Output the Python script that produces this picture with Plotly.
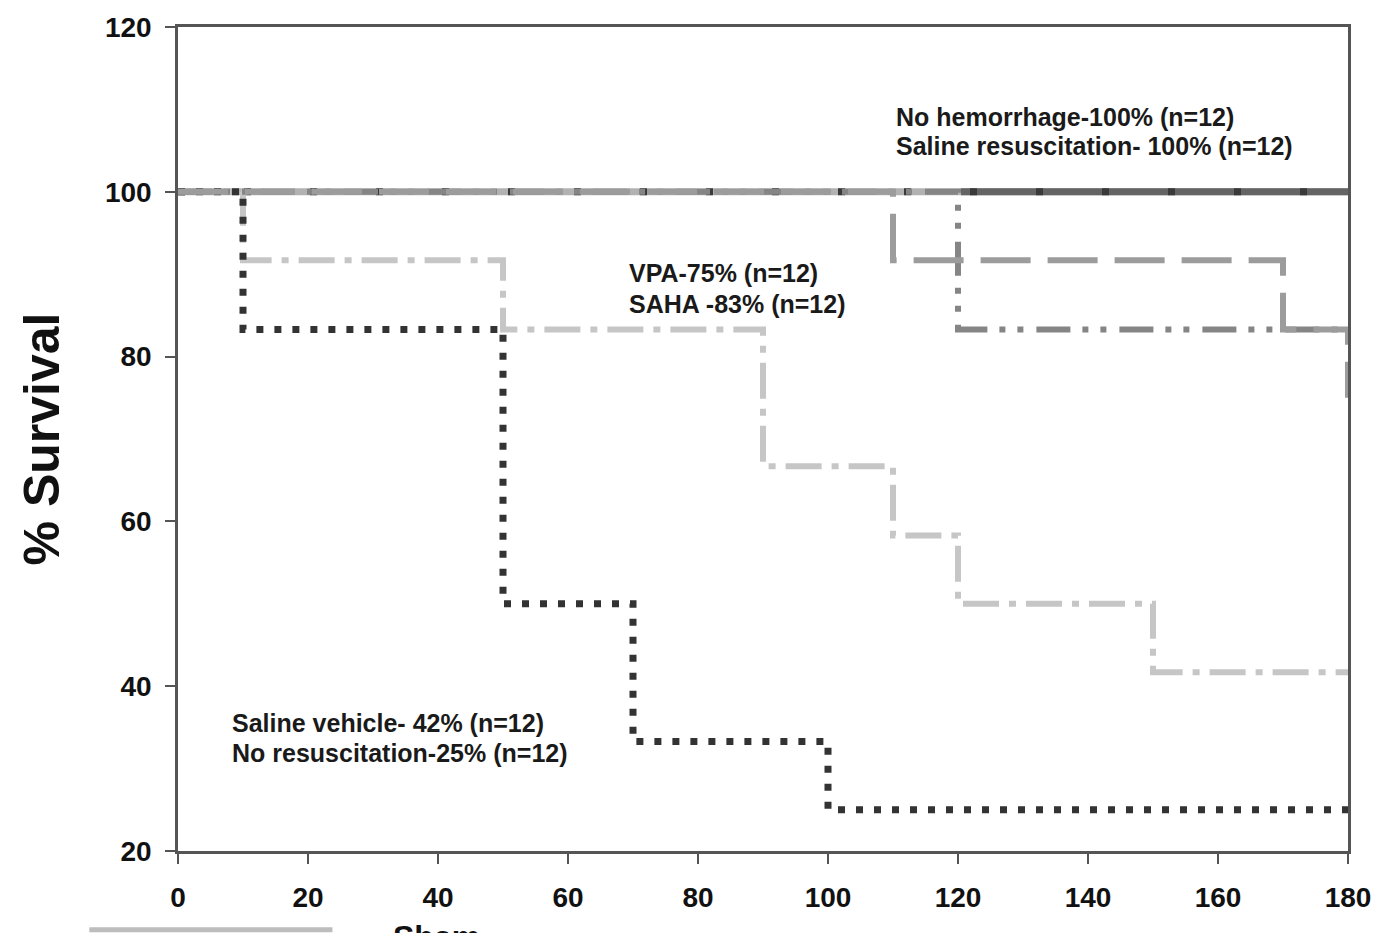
import plotly.graph_objects as go

# ---- data (time in minutes, % survival) ----
sham_t = [0, 180]
sham_s = [100, 100]

nohem_t = [0, 180]
nohem_s = [100, 100]

salres_t = [0, 180]
salres_s = [100, 100]

vpa_t = [0, 110, 170, 180]
vpa_s = [100, 91.7, 83.3, 75]

saha_t = [0, 120, 180]
saha_s = [100, 83.3, 83.3]

salveh_t = [0, 10, 50, 90, 110, 120, 150, 180]
salveh_s = [100, 91.7, 83.3, 66.7, 58.3, 50, 41.7, 41.7]

nores_t = [0, 10, 50, 70, 100, 180]
nores_s = [100, 83.3, 50, 33.3, 25, 25]

x_ticks = [0, 20, 40, 60, 80, 100, 120, 140, 160, 180]
y_ticks = [20, 40, 60, 80, 100, 120]

FONT = "Liberation Sans, Arial, sans-serif"

fig = go.Figure()

def add(t, s, name, color, dash, width=6):
    fig.add_trace(go.Scatter(x=t, y=s, name=name, mode="lines",
                             line=dict(shape="hv", color=color, width=width, dash=dash),
                             showlegend=False, hoverinfo="skip"))

add(sham_t, sham_s, "Sham", "#b2b2b2", "solid", 7)
add(salres_t, salres_s, "Saline resuscitation", "#646464", "0px,783px,500px", 7)
add(nohem_t, nohem_s, "No hemorrhage", "#3a3a3a", "7px,59px", 7)
add(salveh_t, salveh_s, "Saline vehicle", "#c6c6c6", "36px,10px,7px,10px")
add(nores_t, nores_s, "No resuscitation", "#333333", "7px,11px", 7)
add(saha_t, saha_s, "SAHA", "#858585", "34px,12px,6px,12px,6px,13px")
add(vpa_t, vpa_s, "VPA", "#9c9c9c", "50px,17px")

ann_font = dict(family=FONT, size=25, color="#1a1a1a", weight="bold")
notes = [
    (110.2, 109.1, "No hemorrhage-100% (n=12)"),
    (110.2, 105.5, "Saline resuscitation- 100% (n=12)"),
    (69.0, 90.1, "VPA-75% (n=12)"),
    (69.0, 86.4, "SAHA -83% (n=12)"),
    (8.0, 35.5, "Saline vehicle- 42% (n=12)"),
    (8.0, 31.9, "No resuscitation-25% (n=12)"),
]
for x, y, txt in notes:
    fig.add_annotation(x=x, y=y, text=txt, showarrow=False, xanchor="left",
                       yanchor="middle", font=ann_font)

# cut-off legend entry at the bottom
fig.add_shape(type="line", xref="paper", yref="paper",
              x0=-0.0758, x1=0.132, y0=-0.0956, y1=-0.0956,
              line=dict(color="#bdbdbd", width=5))
fig.add_annotation(xref="paper", yref="paper", x=0.182, y=-0.080, text="Sham",
                   showarrow=False, xanchor="left", yanchor="top",
                   font=dict(family=FONT, size=32, color="#111111", weight="bold"))

axis_common = dict(showgrid=False, zeroline=False, showline=True, mirror=True,
                   linecolor="#555555", linewidth=2.5, ticks="outside", ticklen=10,
                   tickwidth=2, tickcolor="#555555",
                   tickfont=dict(family=FONT, size=28, color="#111111", weight="bold"))

fig.update_xaxes(range=[0, 180], tickvals=x_ticks, ticktext=[str(v) for v in x_ticks],
                 ticklabelstandoff=10, **axis_common)
fig.update_yaxes(range=[20, 120], tickvals=y_ticks, ticktext=[str(v) for v in y_ticks],
                 ticklabelstandoff=8,
                 title=dict(text="% Survival", standoff=30,
                            font=dict(family=FONT, size=50, color="#111111", weight="bold")),
                 **axis_common)

fig.update_layout(width=1383, height=933, margin=dict(l=178, r=31, t=25, b=82),
                  plot_bgcolor="white", paper_bgcolor="white")

fig.write_html("out.html")
